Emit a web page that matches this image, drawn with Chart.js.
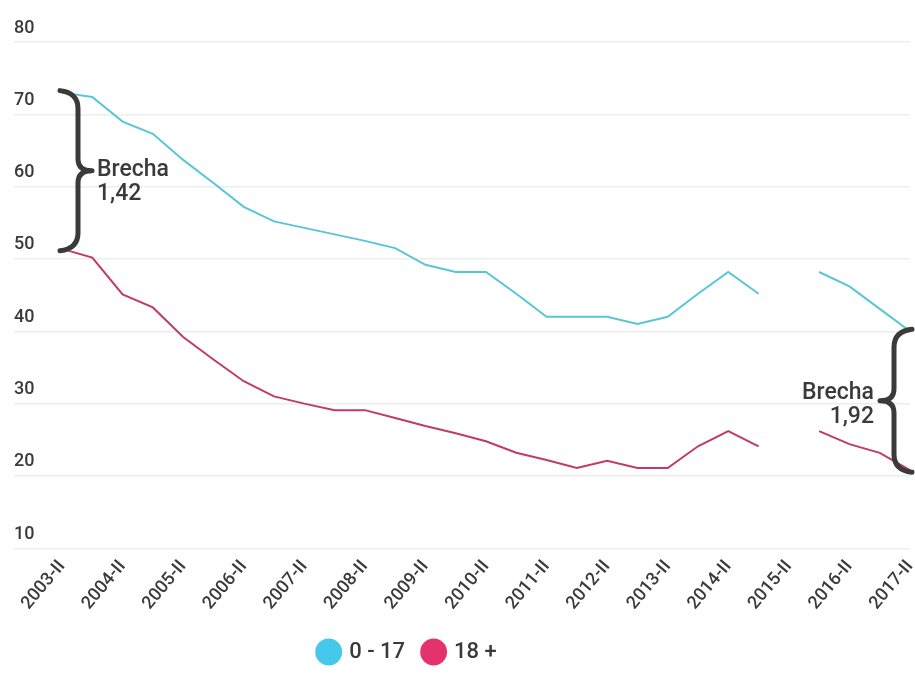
<!DOCTYPE html>
<html>
<head>
<meta charset="utf-8">
<script src="https://cdn.jsdelivr.net/npm/chart.js@4.4.1/dist/chart.umd.min.js"></script>
<style>
  html, body { margin: 0; padding: 0; background: #fff; }
  #wrap { width: 915px; height: 684px; position: relative; }
</style>
</head>
<body>
<div id="wrap"><canvas id="chart"></canvas></div>
<script>
// semesters, 2003-II .. 2017-II
const periods = [
  "2003-II",
  "2004-I", "2004-II", "2005-I", "2005-II", "2006-I", "2006-II",
  "2007-I", "2007-II", "2008-I", "2008-II", "2009-I", "2009-II",
  "2010-I", "2010-II", "2011-I", "2011-II", "2012-I", "2012-II",
  "2013-I", "2013-II", "2014-I", "2014-II", "2015-I", "2015-II",
  "2016-I", "2016-II", "2017-I", "2017-II"
];

// poverty rate by age group (%), 2015-II missing
const kids = [
  73, 72.4, 69, 67.3, 63.7, 60.5, 57.2, 55.2, 54.3, 53.4,
  52.5, 51.5, 49.2, 48.2, 48.2, 45.2, 42, 42, 42, 41,
  42, 45.2, 48.2, 45.2, null, 48.2, 46.2, 43.1, 40
];
const adults = [
  51.4, 50.2, 45.1, 43.3, 39.2, 36.1, 33.1, 31, 30, 29.1,
  29.1, 28, 26.9, 25.9, 24.8, 23.2, 22.2, 21.1, 22.1, 21.1,
  21.1, 24.1, 26.2, 24.1, null, 26.2, 24.4, 23.2, 20.8
];

const yTicks = [10, 20, 30, 40, 50, 60, 70, 80];

const KID_LINE = "#58c6d8", KID_DOT = "#45c8ec";
const ADULT_LINE = "#c23a6b", ADULT_DOT = "#e4326c";
const INK = "#3a3a3a";

// curly brace between two points of the same x, tip pointing dir (1 right, -1 left)
function brace(ctx, x, yTop, yBot, dir) {
  const body = x + 16 * dir, tip = x + 30 * dir;
  const mid = (yTop + yBot) / 2;
  ctx.beginPath();
  ctx.moveTo(x - 2 * dir, yTop - 2);
  ctx.quadraticCurveTo(body, yTop, body, yTop + 16);
  ctx.lineTo(body, mid - 12);
  ctx.quadraticCurveTo(body, mid, tip, mid);
  ctx.quadraticCurveTo(body, mid, body, mid + 12);
  ctx.lineTo(body, yBot - 16);
  ctx.quadraticCurveTo(body, yBot, x - 2 * dir, yBot + 2);
  ctx.stroke();
}

function ratio(a, b) {
  return (a / b).toFixed(2).replace(".", ",");
}

const gapNotes = {
  id: "gapNotes",
  afterDatasetsDraw(chart) {
    const { ctx, scales: { x, y } } = chart;
    const first = 0, last = periods.length - 1;
    ctx.save();
    ctx.strokeStyle = INK;
    ctx.lineWidth = 5;
    ctx.lineCap = "round";
    ctx.lineJoin = "round";
    ctx.fillStyle = INK;
    ctx.font = "500 23px Roboto";
    ctx.textBaseline = "middle";

    // start of the series
    let px = x.getPixelForValue(first);
    let yt = y.getPixelForValue(kids[first]), yb = y.getPixelForValue(adults[first]);
    brace(ctx, px, yt, yb, 1);
    let mid = (yt + yb) / 2;
    ctx.textAlign = "left";
    ctx.fillText("Brecha", px + 35, mid);
    ctx.fillText(ratio(kids[first], adults[first]), px + 35, mid + 24);

    // end of the series
    px = x.getPixelForValue(last);
    yt = y.getPixelForValue(kids[last]); yb = y.getPixelForValue(adults[last]);
    brace(ctx, px, yt, yb, -1);
    mid = (yt + yb) / 2;
    ctx.textAlign = "right";
    ctx.fillText("Brecha", px - 36, mid - 7);
    ctx.fillText(ratio(kids[last], adults[last]), px - 36, mid + 17);
    ctx.restore();
  }
};

// legend sits a bit left of centre and slightly lower
const legendShift = {
  id: "legendShift",
  afterLayout(chart) {
    const lg = chart.legend;
    lg.left -= 54;
    lg.right -= 54;
    lg.top += 8;
    lg.bottom += 8;
  }
};

new Chart(document.getElementById("chart"), {
  type: "line",
  data: {
    labels: periods,
    datasets: [
      {
        label: "0 - 17",
        data: kids,
        borderColor: KID_LINE,
        backgroundColor: KID_DOT,
        borderWidth: 2,
        pointRadius: 0,
        tension: 0
      },
      {
        label: "18 +",
        data: adults,
        borderColor: ADULT_LINE,
        backgroundColor: ADULT_DOT,
        borderWidth: 2,
        pointRadius: 0,
        tension: 0
      }
    ]
  },
  options: {
    responsive: true,
    maintainAspectRatio: false,
    animation: false,
    layout: { padding: { top: 42, left: 14, right: 5, bottom: 19 } },
    plugins: {
      tooltip: { enabled: false },
      legend: {
        position: "bottom",
        labels: {
          usePointStyle: true,
          pointStyle: "circle",
          boxWidth: 19,
          boxHeight: 19,
          padding: 19,
          color: INK,
          font: { family: "Roboto", size: 22, weight: "500" },
          generateLabels(chart) {
            return chart.data.datasets.map((ds, i) => ({
              text: ds.label,
              fillStyle: ds.backgroundColor,
              strokeStyle: ds.backgroundColor,
              lineWidth: 0,
              pointStyle: "circle",
              fontColor: INK,
              datasetIndex: i
            }));
          }
        }
      }
    },
    scales: {
      x: {
        grid: { display: false },
        border: { display: false },
        afterFit(scale) {
          scale.paddingLeft = 0;
          scale.paddingRight = 0;
        },
        ticks: {
          autoSkip: false,
          minRotation: 50,
          maxRotation: 50,
          padding: 0,
          color: INK,
          font: { family: "Roboto", size: 18, weight: "500" },
          callback: (v, i) => (i % 2 === 0 ? periods[i] : "")
        }
      },
      y: {
        min: 10,
        max: 80,
        afterBuildTicks(scale) {
          scale.ticks = yTicks.map(v => ({ value: v }));
        },
        afterFit(scale) {
          scale.width = 48;
        },
        border: { display: false },
        grid: {
          color: "#ededed",
          tickColor: "#ededed",
          tickLength: 48,
          lineWidth: 1.5
        },
        ticks: {
          crossAlign: "far",
          labelOffset: -14,
          padding: 0,
          color: INK,
          font: { family: "Roboto", size: 18, weight: "500" }
        }
      }
    }
  },
  plugins: [gapNotes, legendShift]
});
</script>
</body>
</html>
